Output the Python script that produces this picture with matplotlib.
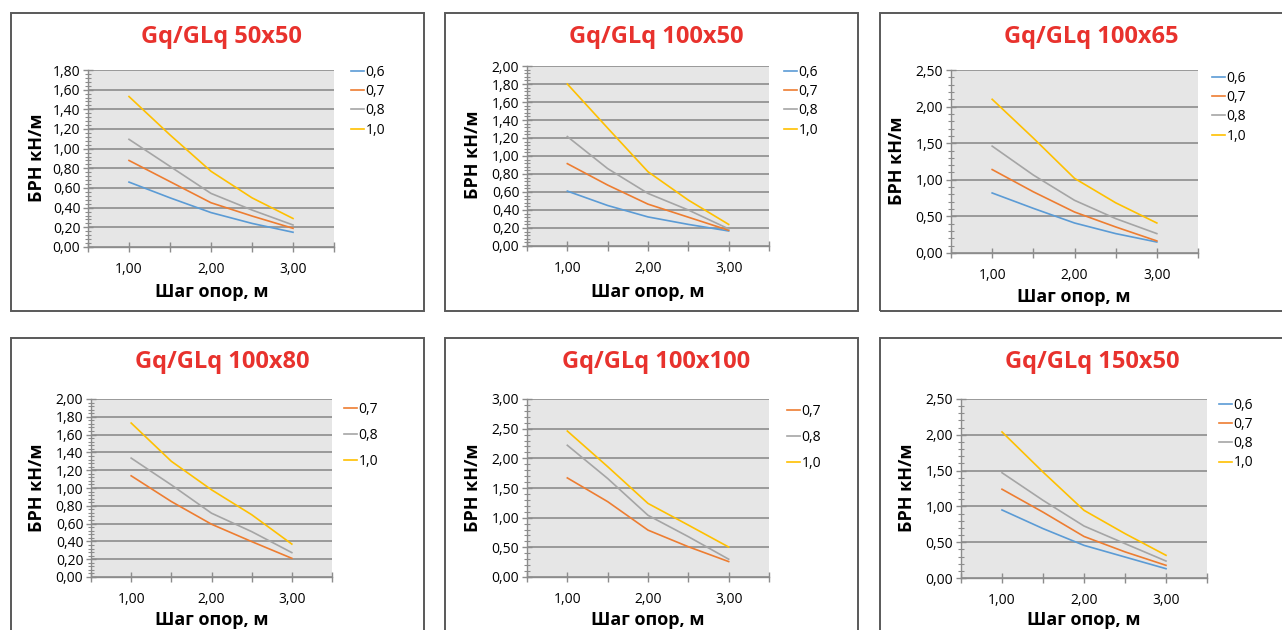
import matplotlib
matplotlib.use('Agg')
import matplotlib.pyplot as plt
from matplotlib.patches import Rectangle
from matplotlib.ticker import MultipleLocator, FuncFormatter

plt.rcParams['font.family'] = ['Open Sans', 'DejaVu Sans']

W, H = 1282, 630

# шаг опор, м
steps = [1.0, 1.5, 2.0, 2.5, 3.0]

# БРН кН/м
p50x50_06 = [0.66, 0.50, 0.35, 0.24, 0.15]
p50x50_07 = [0.88, 0.665, 0.45, 0.315, 0.19]
p50x50_08 = [1.095, 0.82, 0.545, 0.376, 0.224]
p50x50_10 = [1.53, 1.14, 0.77, 0.50, 0.29]

p100x50_06 = [0.61, 0.45, 0.323, 0.24, 0.167]
p100x50_07 = [0.915, 0.677, 0.465, 0.32, 0.175]
p100x50_08 = [1.216, 0.86, 0.584, 0.40, 0.19]
p100x50_10 = [1.80, 1.31, 0.825, 0.51, 0.24]

p100x65_06 = [0.82, 0.61, 0.41, 0.265, 0.15]
p100x65_07 = [1.14, 0.836, 0.56, 0.356, 0.165]
p100x65_08 = [1.46, 1.065, 0.72, 0.47, 0.265]
p100x65_10 = [2.10, 1.57, 1.02, 0.686, 0.41]

p100x80_07 = [1.137, 0.848, 0.593, 0.398, 0.21]
p100x80_08 = [1.336, 1.035, 0.717, 0.51, 0.274]
p100x80_10 = [1.73, 1.30, 0.98, 0.70, 0.37]

p100x100_07 = [1.67, 1.27, 0.79, 0.51, 0.26]
p100x100_08 = [2.22, 1.66, 1.04, 0.68, 0.30]
p100x100_10 = [2.46, 1.86, 1.24, 0.875, 0.505]

p150x50_06 = [0.95, 0.69, 0.456, 0.293, 0.13]
p150x50_07 = [1.24, 0.92, 0.58, 0.365, 0.177]
p150x50_08 = [1.47, 1.085, 0.726, 0.48, 0.237]
p150x50_10 = [2.04, 1.48, 0.945, 0.62, 0.317]

colors = {'0,6': '#5b9bd5', '0,7': '#ed7d31', '0,8': '#a5a5a5', '1,0': '#ffc000'}

# (title, series, ymax, ymajor, yminor, axes box px, legend anchor px, legend spacing,
#  title pos, ylabel pos, xlabel pos, frame box)
panels = [
    ('Gq/GLq 50x50', {'0,6': p50x50_06, '0,7': p50x50_07, '0,8': p50x50_08, '1,0': p50x50_10},
     1.8, 0.2, 0.04, (88, 70, 334, 247), (351, 65), 0.3, (221, 37), (37, 158), (212, 292), (11, 13, 424, 311)),
    ('Gq/GLq 100x50', {'0,6': p100x50_06, '0,7': p100x50_07, '0,8': p100x50_08, '1,0': p100x50_10},
     2.0, 0.2, 0.04, (527, 66, 769, 246), (784, 65), 0.3, (656, 37), (473, 155), (648, 292), (445, 13, 858, 311)),
    ('Gq/GLq 100x65', {'0,6': p100x65_06, '0,7': p100x65_07, '0,8': p100x65_08, '1,0': p100x65_10},
     2.5, 0.5, 0.1, (951, 70, 1198, 253), (1212, 71), 0.3, (1091, 37), (897, 161), (1074, 297), (880, 13, 1295, 311)),
    ('Gq/GLq 100x80', {'0,7': p100x80_07, '0,8': p100x80_08, '1,0': p100x80_10},
     2.0, 0.2, 0.04, (91, 399, 332, 577), (344, 402), 0.78, (222, 362), (37, 488), (212, 620), (11, 338, 424, 640)),
    ('Gq/GLq 100x100', {'0,7': p100x100_07, '0,8': p100x100_08, '1,0': p100x100_10},
     3.0, 0.5, 0.1, (527, 399, 769, 577), (787, 404), 0.78, (656, 362), (473, 488), (648, 620), (445, 338, 858, 640)),
    ('Gq/GLq 150x50', {'0,6': p150x50_06, '0,7': p150x50_07, '0,8': p150x50_08, '1,0': p150x50_10},
     2.5, 0.5, 0.1, (961, 399, 1207, 578), (1219, 398), 0.3, (1092, 362), (907, 488), (1084, 620), (880, 338, 1295, 640)),
]

fig = plt.figure(figsize=(W / 100, H / 100), dpi=100)
fig.patch.set_facecolor('white')

fmt = FuncFormatter(lambda v, p: ('%.2f' % v).replace('.', ','))
xfmt = FuncFormatter(lambda v, p: ('%.2f' % v).replace('.', ',') if abs(v - round(v)) < 1e-6 else '')

for (title, series, ymax, ymaj, ymin_, box, leg, lsp, tpos, ypos, xpos, frame) in panels:
    # outer chart frame
    fx0, fy0, fx1, fy1 = frame
    fig.add_artist(Rectangle((fx0 / W, 1 - fy1 / H), (fx1 - fx0) / W, (fy1 - fy0) / H,
                             transform=fig.transFigure, fill=False, ec='#595959', lw=1.4))

    x0, y0, x1, y1 = box
    ax = fig.add_axes([x0 / W, 1 - y1 / H, (x1 - x0) / W, (y1 - y0) / H])
    ax.set_facecolor('#e6e6e6')
    for name, vals in series.items():
        ax.plot(steps, vals, color=colors[name], lw=1.2, label=name, zorder=3)

    ax.set_xlim(0.5, 3.5)
    ax.set_ylim(0, ymax)
    ax.xaxis.set_major_locator(MultipleLocator(0.5))
    ax.xaxis.set_major_formatter(xfmt)
    ax.yaxis.set_major_locator(MultipleLocator(ymaj))
    ax.yaxis.set_minor_locator(MultipleLocator(ymin_))
    ax.yaxis.set_major_formatter(fmt)
    ax.grid(axis='y', which='major', color='#8c8c8c', lw=1.2, zorder=1)
    ax.set_axisbelow(True)
    for s in ['top', 'right']:
        ax.spines[s].set_visible(False)
    for s in ['left', 'bottom']:
        ax.spines[s].set_color('#8c8c8c')
        ax.spines[s].set_linewidth(1.0)
    ax.tick_params(axis='both', which='major', direction='inout', length=7, width=1.0,
                   color='#8c8c8c', labelsize=10, labelcolor='#000000')
    ax.tick_params(axis='y', which='minor', direction='inout', length=4, width=0.8, color='#8c8c8c')
    ax.tick_params(axis='x', which='major', pad=7)
    ax.tick_params(axis='y', which='major', pad=2)

    ax.legend(loc='upper left', bbox_to_anchor=(leg[0] / W, 1 - leg[1] / H),
              bbox_transform=fig.transFigure, frameon=False, handlelength=0.9,
              handletextpad=0.15, labelspacing=lsp, borderpad=0, borderaxespad=0,
              fontsize=10, labelcolor='#000000')

    fig.text(tpos[0] / W, 1 - tpos[1] / H, title, color='#e8322d', fontsize=17,
             fontweight='bold', ha='center', va='center')
    fig.text(ypos[0] / W, 1 - ypos[1] / H, 'БРН кН/м', fontsize=13, fontweight='bold',
             rotation=90, ha='center', va='center', color='#000000')
    fig.text(xpos[0] / W, 1 - xpos[1] / H, 'Шаг опор, м', fontsize=13, fontweight='bold',
             ha='center', va='center', color='#000000')

fig.savefig('out.png', dpi=100, facecolor='white')
